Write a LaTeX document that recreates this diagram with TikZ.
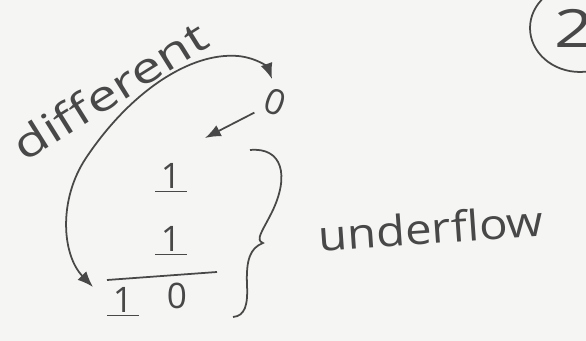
\documentclass[tikz,border=0pt]{standalone}
\usepackage{fontspec}
\setmainfont{Open Sans}
\usepackage{graphicx}
\usepackage{xcolor}
\usetikzlibrary{arrows.meta}

\definecolor{ink}{RGB}{72,72,72}
\definecolor{paper}{RGB}{245,245,243}

\newcommand{\wide}[1]{\scalebox{1.3}[1]{#1}}

\begin{document}
\begin{tikzpicture}[
		x=0.02cm,
		y=-0.02cm,
		digit/.style={text=ink, inner sep=1pt, font=\fontsize{20}{22}\selectfont},
		word/.style={text=ink, inner sep=0pt, anchor=base, font=\fontsize{24}{26}\selectfont},
		pen/.style={draw=ink, line width=1pt},
		link/.style={pen, -{Latex[length=9pt, width=7pt]}}
		]
		% Sheet
		\useasboundingbox (0,0) rectangle (586,341);
		\fill[paper] (0,0) rectangle (586,341);
		\clip (0,0) rectangle (586,341);
		
		% Digits
		\node[digit, rotate=-20] (topzero) at (275,102) {0};
		\node[digit] (onea) at (171,178) {\underline{\,1\,}};
		\node[digit] (oneb) at (171,241) {\underline{\,1\,}};
		\node[digit] (onec) at (123,302) {\underline{\,1\,}};
		\node[digit] (zeroc) at (177,296) {0};
		\draw[pen] (107,280) -- (217,272);
		
		% Words
		\node[word, rotate=32] (diff) at (118,104) {\wide{different}};
		\node[word, rotate=4] (under) at (432,244) {\scalebox{1.12}[1]{underflow}};
		
		% Arrows
		\coordinate (arcbot) at (93,287);
		\coordinate (arctop) at (272,79);
		\coordinate (ptr) at (205,138);
		\draw[link, {Latex[length=9pt, width=7pt]}-{Latex[length=9pt, width=7pt]}] (arcbot)
			.. controls (62,255) and (58,200) .. (86,158)
			.. controls (130,92) and (190,52) .. (238,56)
			.. controls (258,58) and (268,68) .. (arctop);
		\draw[link, shorten <=3pt] (topzero) -- (ptr);
		
		% Brace
		\draw[pen] (250,150) .. controls (282,147) and (290,175) .. (272,212)
			.. controls (262,232) and (255,240) .. (263,243)
			.. controls (250,248) and (246,260) .. (247,285)
			.. controls (248,305) and (245,316) .. (233,317);
		
		% Page mark
		\draw[pen] (580,28) ellipse [x radius=1cm, y radius=0.88cm];
		\node[digit, font=\fontsize{30}{32}\selectfont] (mark) at (574,28) {\scalebox{1.3}[1]{2}};
	\end{tikzpicture}
\end{document}
